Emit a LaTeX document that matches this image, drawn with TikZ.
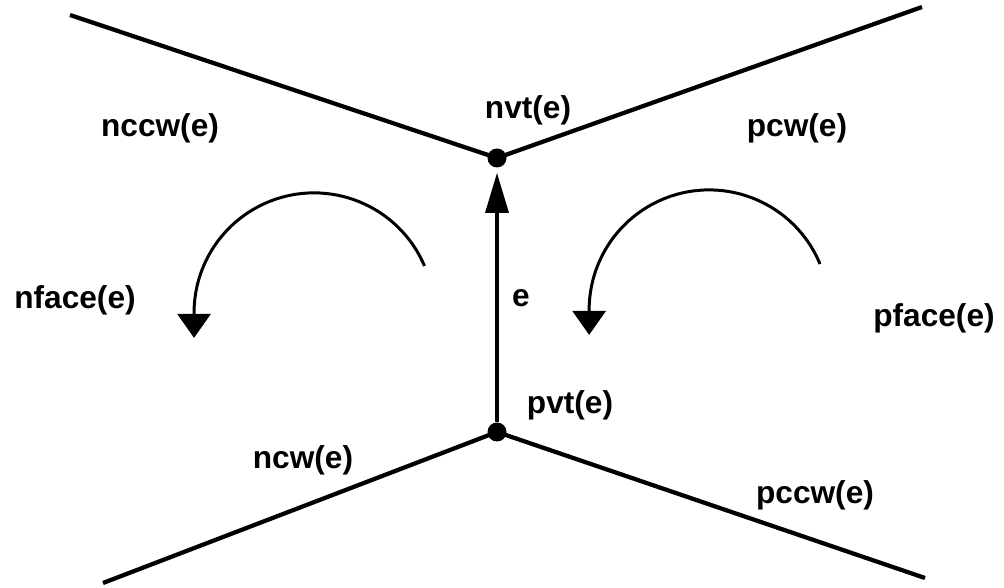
\documentclass[tikz,border=0pt]{standalone}
\usepackage{fontspec}
\setmainfont{Liberation Sans}
\usetikzlibrary{arrows.meta}

\tikzset{
  vertex/.style={circle, fill, inner sep=0pt, minimum size=0.38cm},
  wing/.style={line width=0.085cm},
  turn/.style={line width=0.06cm, -{Triangle[width=0.66cm,length=0.48cm]}},
  lbl/.style={font=\bfseries\fontsize{18}{20}\selectfont, inner sep=0pt}
}

\begin{document}
\begin{tikzpicture}
  \useasboundingbox (0,0) rectangle (20.08,11.74);
  % the edge e and its two end vertices
  \node[vertex] (nvt) at (9.94,8.58) {};
  \node[vertex] (pvt) at (9.94,3.10) {};
  \draw[line width=0.065cm, -{Triangle[width=0.46cm,length=0.8cm]}, shorten >=0.1cm] (pvt) -- (nvt);
  % the four wings
  \coordinate (tl) at (1.40,11.44);
  \coordinate (tr) at (18.44,11.60);
  \coordinate (bl) at (2.06,0.08);
  \coordinate (br) at (18.50,0.18);
  \draw[wing] (tl) -- (nvt.center) -- (tr);
  \draw[wing] (bl) -- (pvt.center) -- (br);
  % both faces turning round
  \draw[turn] (8.49,6.42) arc (23:180:2.4) -- ++(0,-0.5);
  \draw[turn] (16.40,6.46) arc (22.5:180:2.4) -- ++(0,-0.5);
  % labels
  \node[lbl] (nccwlbl) at (3.20,9.18) {nccw(e)};
  \node[lbl] (nvtlbl) at (10.56,9.54) {nvt(e)};
  \node[lbl] (pcwlbl) at (15.94,9.18) {pcw(e)};
  \node[lbl] (nfacelbl) at (1.50,5.74) {nface(e)};
  \node[lbl] (elbl) at (10.42,5.78) {e};
  \node[lbl] (pfacelbl) at (18.68,5.38) {pface(e)};
  \node[lbl] (pvtlbl) at (11.40,3.64) {pvt(e)};
  \node[lbl] (ncwlbl) at (6.06,2.54) {ncw(e)};
  \node[lbl] (pccwlbl) at (16.30,1.84) {pccw(e)};
\end{tikzpicture}
\end{document}
